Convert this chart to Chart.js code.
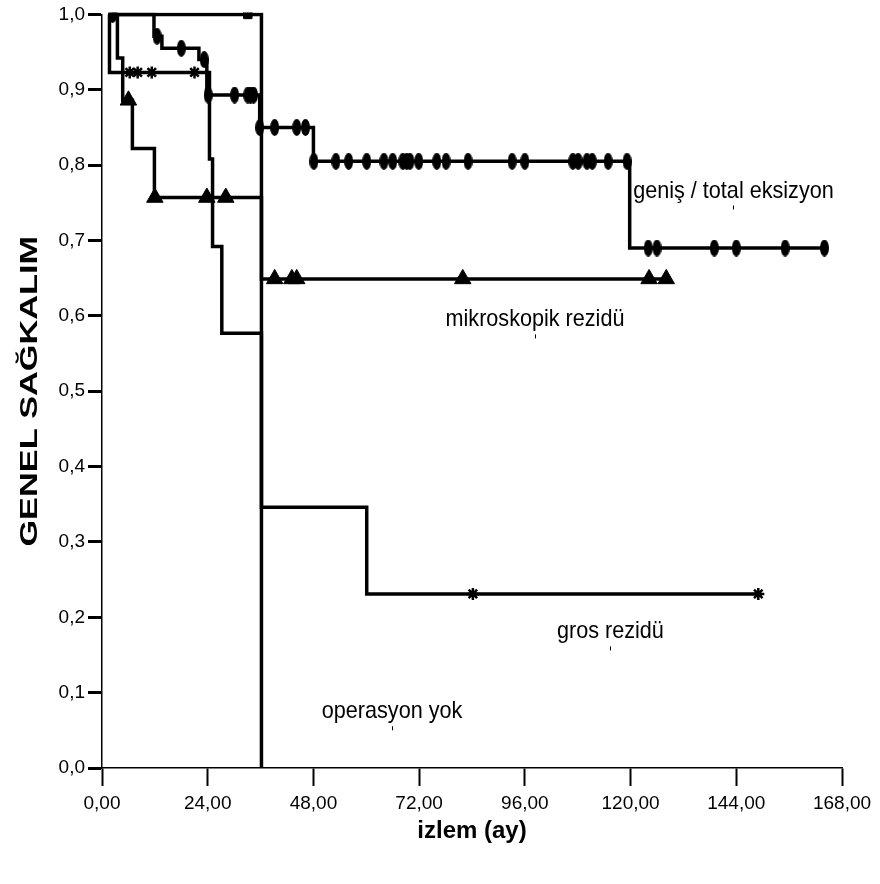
<!DOCTYPE html>
<html>
<head>
<meta charset="utf-8">
<script src="https://cdn.jsdelivr.net/npm/chart.js@4.4.0/dist/chart.umd.min.js"></script>
<style>
  html, body { margin: 0; padding: 0; background: #fff; }
  #wrap { width: 880px; height: 884px; }
</style>
</head>
<body>
<div id="wrap"><canvas id="kmChart" width="880" height="884"></canvas></div>
<script>
// axis ticks
const xTicks = [0, 24, 48, 72, 96, 120, 144, 168];
const yTicks = [0, 0.1, 0.2, 0.3, 0.4, 0.5, 0.6, 0.7, 0.8, 0.9, 1.0];

// geniş / total eksizyon (step points: time, survival after the step)
const genisTime = [2.2, 11.8, 13.6, 22.0, 23.8, 35.8, 48.0, 119.8, 164.0];
const genisSurv = [1.0, 0.971, 0.955, 0.940, 0.893, 0.850, 0.805, 0.690, 0.690];
const genisCensor = [2.4, 12.5, 18.0, 23.2, 24.1, 30.1, 33.1, 33.7, 34.4, 35.8, 39.2, 44.2, 46.2,
  48.1, 53.1, 56.0, 60.1, 64.0, 66.0, 68.3, 69.2, 69.9, 71.9, 76.0, 78.1, 83.1, 93.1, 96.0,
  106.9, 108.1, 110.1, 111.3, 114.9, 119.2, 124.0, 126.0, 139.0, 144.0, 155.1, 164.0];

// mikroskopik rezidü
const mikroTime = [2.2, 3.5, 4.7, 6.9, 11.9, 36.2, 128.1];
const mikroSurv = [1.0, 0.942, 0.886, 0.822, 0.757, 0.649, 0.649];
const mikroCensor = [6.0, 12.0, 23.8, 28.1, 39.2, 43.1, 44.2, 81.9, 124.2, 128.1];

// gros rezidü
const grosTime = [1.7, 1.7, 24.4, 25.1, 27.2, 36.2, 60.1, 149.0];
const grosSurv = [1.0, 0.923, 0.808, 0.692, 0.577, 0.346, 0.231, 0.231];
const grosCensor = [6.3, 8.1, 11.3, 21.0, 84.2, 149.0];

// operasyon yok
const opTime = [2.2, 36.2];
const opSurv = [1.0, 0.0];
const opCensor = [33.1];

// curve labels (left edge, baseline) in data units
const labelText = ['geniş / total eksizyon', 'mikroskopik rezidü', 'gros rezidü', 'operasyon yok'];
const labelX = [120.6, 78.0, 103.3, 49.9];
const labelY = [0.757, 0.586, 0.172, 0.066];

function steps(times, surv) {
  return times.map((t, i) => ({ x: t, y: surv[i] }));
}

function levelAt(times, surv, t) {
  let s = surv[0];
  for (let i = 0; i < times.length; i++) {
    if (times[i] <= t) s = surv[i];
  }
  return s;
}

function censored(times, surv, cens) {
  return cens.map(t => ({ x: t, y: levelAt(times, surv, t) }));
}

function ellipseMarker(w, h) {
  const c = document.createElement('canvas');
  c.width = w; c.height = h;
  const g = c.getContext('2d');
  g.fillStyle = '#000';
  g.beginPath();
  g.ellipse(w / 2, h / 2, w / 2, h / 2, 0, 0, Math.PI * 2);
  g.fill();
  return c;
}

const clipArea = { left: 6, top: 2, right: 10, bottom: 4 };

function curve(times, surv) {
  return {
    data: steps(times, surv),
    showLine: true,
    stepped: true,
    borderColor: '#000',
    borderWidth: 3.5,
    borderCapStyle: 'butt',
    pointRadius: 0,
    clip: clipArea
  };
}

function marks(data, style, radius, border) {
  return {
    data: data,
    showLine: false,
    pointStyle: style,
    pointRadius: radius,
    pointBackgroundColor: '#000',
    pointBorderColor: '#000',
    pointBorderWidth: border,
    clip: clipArea
  };
}

const labelPlugin = {
  id: 'kmLabels',
  afterDatasetsDraw(chart) {
    const { ctx, scales: { x, y } } = chart;
    ctx.save();
    ctx.fillStyle = '#000';
    ctx.textBaseline = 'alphabetic';
    ctx.font = '24px "Liberation Sans", Arial, sans-serif';
    labelText.forEach((txt, i) => {
      const px = x.getPixelForValue(labelX[i]);
      const py = y.getPixelForValue(labelY[i]);
      const w = ctx.measureText(txt).width * 0.9;
      ctx.save();
      ctx.translate(px, py);
      ctx.scale(0.9, 1);
      ctx.fillText(txt, 0, 0);
      ctx.restore();
      // small anchor tick under label
      ctx.fillRect(Math.round(px + w / 2), py + 8, 1, 4);
    });

    // axis titles
    ctx.font = 'bold 24px "Liberation Sans", Arial, sans-serif';
    ctx.textAlign = 'center';
    ctx.fillText('izlem (ay)', (x.left + x.right) / 2, 838);

    ctx.save();
    ctx.translate(37, (y.top + y.bottom) / 2);
    ctx.rotate(-Math.PI / 2);
    ctx.scale(1.43, 1);
    ctx.fillText('GENEL SAĞKALIM', 0, 0);
    ctx.restore();
    ctx.restore();
  }
};

const ctx = document.getElementById('kmChart').getContext('2d');
const kmChart = new Chart(ctx, {
  type: 'scatter',
  data: {
    datasets: [
      curve(genisTime, genisSurv),
      marks(censored(genisTime, genisSurv, genisCensor), ellipseMarker(9, 17), 6, 0),
      curve(mikroTime, mikroSurv),
      marks(censored(mikroTime, mikroSurv, mikroCensor), 'triangle', 9.5, 1),
      curve(grosTime, grosSurv),
      marks(censored(grosTime, grosSurv, grosCensor), 'star', 6, 2.5),
      curve(opTime, opSurv),
      marks(censored(opTime, opSurv, opCensor), 'rect', 6, 1)
    ]
  },
  options: {
    responsive: false,
    animation: false,
    devicePixelRatio: 1,
    layout: { padding: { top: 14, right: 38, left: 0, bottom: 0 } },
    plugins: {
      legend: { display: false },
      tooltip: { enabled: false }
    },
    scales: {
      x: {
        type: 'linear',
        min: 0,
        max: 168,
        afterFit: function(scale) { scale.height = 116; },
        afterBuildTicks: function(scale) { scale.ticks = xTicks.map(v => ({ value: v })); },
        border: { display: true, color: '#000', width: 1.5 },
        grid: { drawOnChartArea: false, drawTicks: true, tickLength: 18, tickWidth: 2, tickColor: '#000' },
        ticks: {
          color: '#000',
          padding: 6,
          maxRotation: 0,
          autoSkip: false,
          font: { family: '"Liberation Sans", Arial, sans-serif', size: 19 },
          callback: function(value) { return value.toFixed(2).replace('.', ','); }
        }
      },
      y: {
        type: 'linear',
        min: 0,
        max: 1,
        afterFit: function(scale) { scale.width = 102; },
        afterBuildTicks: function(scale) { scale.ticks = yTicks.map(v => ({ value: v })); },
        border: { display: true, color: '#000', width: 1.5 },
        grid: { drawOnChartArea: false, drawTicks: true, tickLength: 14, tickWidth: 3, tickColor: '#000' },
        ticks: {
          color: '#000',
          padding: 3,
          autoSkip: false,
          font: { family: '"Liberation Sans", Arial, sans-serif', size: 19 },
          callback: function(value) { return value.toFixed(1).replace('.', ','); }
        }
      }
    }
  },
  plugins: [labelPlugin]
});
</script>
</body>
</html>
